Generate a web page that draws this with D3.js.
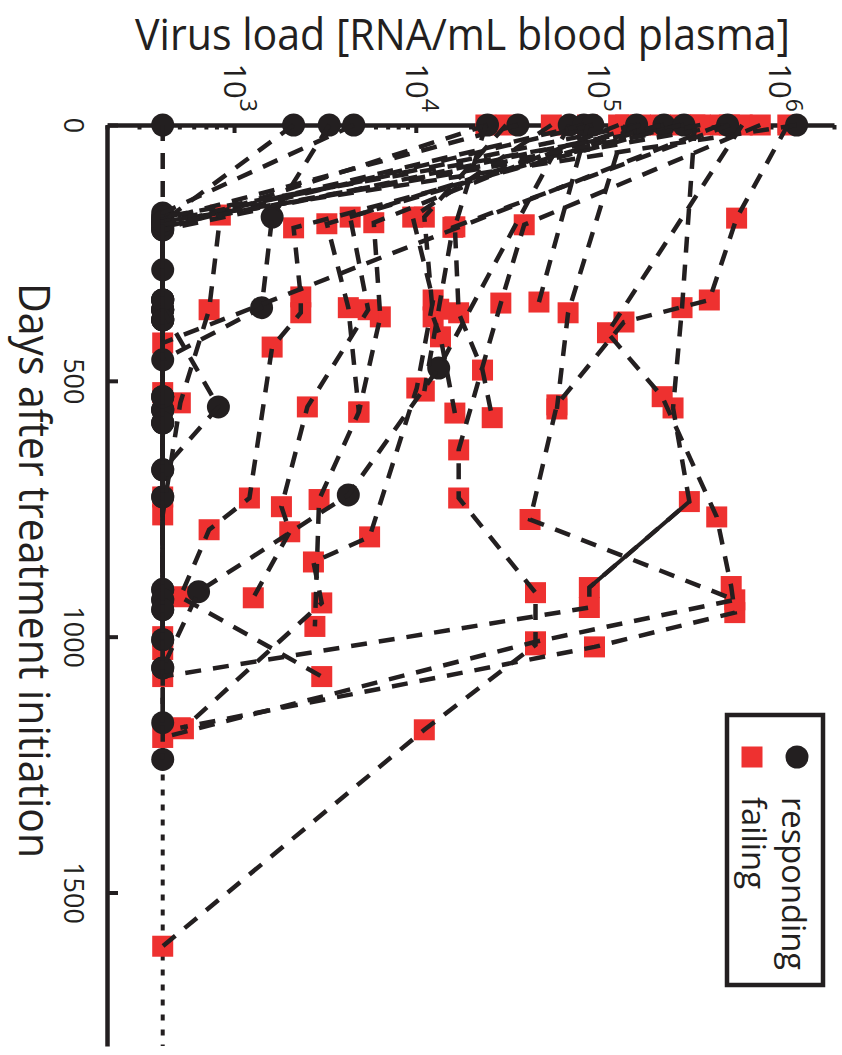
<!DOCTYPE html>
<html><head><meta charset="utf-8">
<script src="https://cdn.jsdelivr.net/npm/d3@7"></script>
<style>body{margin:0;background:#fff} svg{display:block}</style>
</head><body>
<svg id="chart" width="842" height="1055"></svg>
<script>
// ---------- data ----------
const dayTicks = [0, 500, 1000, 1500];
const loadTicks = [1e3, 1e4, 1e5, 1e6];
const detectionLimit = 400;
const limitSolidDays = [172, 1240];

// responding patients (days after treatment initiation / virus load RNA per mL)
const respondingDays = [
  [0,180,361,557,727],
  [0,189,342,531],
  [0,180,357,459,674],
  [0,172,283,381],
  [0,205,361,551,674,908],
  [0,185,342,582,928],
  [0,475,723,912,1061],
  [0,195,381,557,947,1168],
  [0,200,361,531,908],
  [0,189,342,582,727,1006],
  [0,205,381,928,1240],
  [0,180,361,557,947],
  [0,195,342,531,1006],
  [0,189,381,582,1061]
];
const respondingLoads = [
  [400,400,400,400,400],
  [2100,400,400,400],
  [3300,1600,1400,400,400],
  [4500,400,400,400],
  [24500,400,400,810,400,400],
  [36000,400,400,400,400],
  [69000,13200,4200,630,400],
  [83000,400,400,400,400,400],
  [93000,400,400,400,400],
  [162000,400,400,400,400,400],
  [229000,400,400,400,400],
  [295000,400,400,400,400],
  [513000,400,400,400,400],
  [1230000,400,400,400,400]
];

// failing patients
const failingDays = [
  [0,357,553,736,904,943,1078],
  [0,406,531,766,902,953,1020,1178],
  [0,182,342,385,547,771,928,1010,1197],
  [0,195,348,635,729,914,1016,1182,1605],
  [0,199,367,479,572],
  [0,180,375,414,563],
  [0,180,342,514,805,854,934,1180],
  [0,346],
  [0,191,375,561,732,980],
  [0,180,361,551,746,795,924],
  [0,193,357,561],
  [0,201,336,367,434,729,791,922,1078],
  [0,176,361,543,762,1000],
  [0,426,523,727,1025],
  [0,200,360,520],
  [0,367,555]
];
const failingLoads = [
  [339000,288000,257000,316000,89000,89000,400],
  [617000,112000,224000,447000,537000,562000,95000,500],
  [1100000,575000,407000,138000,59000,42000,562000,45000,400],
  [776000,39000,29000,17000,17000,45000,45000,11000,400],
  [24000,16200,17000,23000,26000],
  [31000,11000,12300,13500,16200],
  [55000,9500,12300,10000,5500,2700,3000,520],
  [87000,47000],
  [129000,5800,6300,4800,2900,2750],
  [170000,4300,5400,2500,1800,2000,1260],
  [219000,3200,4200,4800],
  [282000,2100,2300,2300,1600,1200,720,500,3000],
  [363000,830,720,500,400,400],
  [468000,400,400,400,400],
  [525000,15800,13200,11000],
  [141000,68000,59000]
];
// segments drawn with a solid line: [failing patient index, start point index]
const solidSegments = [[0, 3]];

const legendLabels = ["responding", "failing"];
const titleText = "Virus load [RNA/mL blood plasma]";
const daysLabel = "Days after treatment initiation";

// ---------- drawing ----------
const INK = "#231f20", RED = "#ee3130";
const FONT = "'Open Sans', 'Noto Sans', sans-serif";
const svg = d3.select("#chart");
svg.append("rect").attr("width",842).attr("height",1055).attr("fill","#fff");

// chart is drawn in its original frame and rotated 90 degrees clockwise
const L = 921, H = 727;
const x = d3.scaleLinear().domain([0, 1800]).range([0, L]);
const y = d3.scaleLog().domain([200, 2e6]).range([H, 0]);
const g = svg.append("g").attr("transform", "translate(835,125) rotate(90)");

function toPts(days, loads){ return days.map((d,i)=>({day:d, load:loads[i]})); }
const responding = respondingDays.map((d,i)=>toPts(d, respondingLoads[i]));
const failing = failingDays.map((d,i)=>toPts(d, failingLoads[i]));

// axes
const xAxis = g.append("g").attr("transform", `translate(0,${H})`)
  .call(d3.axisBottom(x).tickValues(dayTicks).tickFormat(d3.format("d"))
    .tickSizeInner(-10).tickSizeOuter(0).tickPadding(25));
const yAxis = g.append("g")
  .call(d3.axisLeft(y).tickValues(loadTicks).tickSizeInner(-8).tickSizeOuter(0).tickFormat(""));
const minor = [];
for (let e = 2; e <= 6; e++) for (let k = 2; k <= 9; k++) { const v = k * Math.pow(10, e); if (v >= 200 && v <= 2e6) minor.push(v); }
const yMinor = g.append("g")
  .call(d3.axisLeft(y).tickValues(minor).tickSizeInner(-4.5).tickSizeOuter(0).tickFormat(""));
yMinor.select(".domain").remove();
g.selectAll(".domain").attr("stroke", INK).attr("stroke-width", 4.5);
g.selectAll(".tick line").attr("stroke", INK).attr("stroke-width", 4);
xAxis.selectAll(".tick text").attr("font-family", FONT).attr("font-size", 27).attr("fill", INK);

loadTicks.forEach(t => {
  const txt = g.append("text").attr("x", -13).attr("y", y(t)).attr("text-anchor", "end")
    .attr("font-family", FONT).attr("font-size", 31).attr("fill", INK);
  txt.append("tspan").attr("dy", "0.35em").text("10");
  txt.append("tspan").attr("dy", "-0.7em").attr("font-size", 23).text(Math.round(Math.log10(t)));
});

// detection limit: solid part and dotted continuation
g.append("line").attr("x1", x(limitSolidDays[0])).attr("x2", x(limitSolidDays[1]))
  .attr("y1", y(detectionLimit)).attr("y2", y(detectionLimit))
  .attr("stroke", INK).attr("stroke-width", 4);
g.append("line").attr("x1", x(limitSolidDays[1])).attr("x2", x(1800))
  .attr("y1", y(detectionLimit)).attr("y2", y(detectionLimit))
  .attr("stroke", INK).attr("stroke-width", 4).attr("stroke-dasharray", "6,9");

// markers
const SQ = 21, R = 11.5;
failing.forEach(p => {
  g.selectAll(null).data(p).enter().append("rect")
    .attr("x", d => x(d.day) - SQ/2).attr("y", d => y(d.load) - SQ/2)
    .attr("width", SQ).attr("height", SQ).attr("fill", RED);
});
responding.forEach(p => {
  g.selectAll(null).data(p).enter().append("circle")
    .attr("cx", d => x(d.day)).attr("cy", d => y(d.load)).attr("r", R).attr("fill", INK);
});

// dashed trajectories
const line = d3.line().x(d => x(d.day)).y(d => y(d.load));
[...responding, ...failing].forEach(p => {
  g.append("path").attr("d", line(p)).attr("fill", "none").attr("stroke", INK)
    .attr("stroke-width", 4.5).attr("stroke-dasharray", "16,12");
});
solidSegments.forEach(([pi, si]) => {
  g.append("path").attr("d", line(failing[pi].slice(si, si + 2))).attr("fill", "none")
    .attr("stroke", INK).attr("stroke-width", 4);
});

// titles (screen frame)
svg.append("text").attr("x", 135).attr("y", 50).attr("font-family", FONT).attr("font-size", 43)
  .attr("fill", INK).attr("textLength", 655).attr("lengthAdjust", "spacingAndGlyphs").text(titleText);
svg.append("text").attr("transform", "translate(19,283) rotate(90)").attr("font-family", FONT)
  .attr("font-size", 43).attr("fill", INK).attr("textLength", 575).attr("lengthAdjust", "spacingAndGlyphs")
  .text(daysLabel);

// legend
svg.append("rect").attr("x", 727).attr("y", 715).attr("width", 96).attr("height", 270)
  .attr("fill", "#fff").attr("stroke", INK).attr("stroke-width", 4.5);
svg.append("circle").attr("cx", 797).attr("cy", 757).attr("r", R).attr("fill", INK);
svg.append("rect").attr("x", 752 - SQ/2).attr("y", 757 - SQ/2).attr("width", SQ).attr("height", SQ).attr("fill", RED);
svg.append("text").attr("transform", "translate(782,797) rotate(90)").attr("font-family", FONT)
  .attr("font-size", 32).attr("fill", INK).attr("textLength", 173).attr("lengthAdjust", "spacingAndGlyphs")
  .text(legendLabels[0]);
svg.append("text").attr("transform", "translate(742,797) rotate(90)").attr("font-family", FONT)
  .attr("font-size", 32).attr("fill", INK).attr("textLength", 92).attr("lengthAdjust", "spacingAndGlyphs")
  .text(legendLabels[1]);
</script>
</body></html>
